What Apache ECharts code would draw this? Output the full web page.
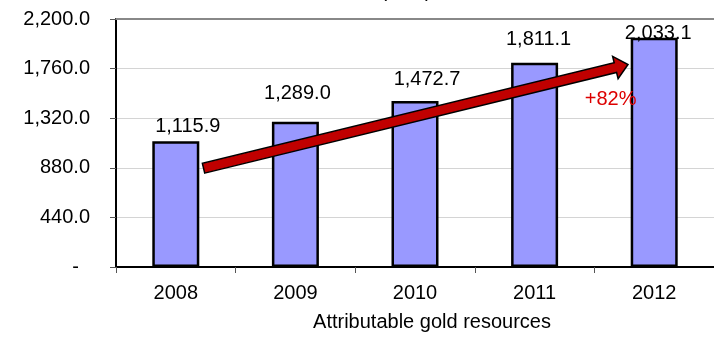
<!DOCTYPE html>
<html>
<head>
<meta charset="utf-8">
<script src="https://cdn.jsdelivr.net/npm/echarts@6/dist/echarts.min.js"></script>
<style>
  html, body { margin: 0; padding: 0; background: #fff; }
  #chart { width: 714px; height: 337px; }
</style>
</head>
<body>
<div id="chart"></div>
<script>
// Attributable gold resources by year
const years = ['2008', '2009', '2010', '2011', '2012'];
const resources = [1115.9, 1289.0, 1472.7, 1811.1, 2033.1];

// Value axis ticks
const yMin = 0;
const yMax = 2200;
const yStep = 440;

// Growth annotation: arrow from/to (category position, value) and its caption
const growthText = '+82%';
const arrowFrom = [0.232, 876];
const arrowTo = [3.781, 1796];
const growthTextAt = [3.636, 1490];

// Per-bar nudges of the value labels, [dx, dy] in px
const labelNudge = [[12, -5], [2, -18], [12, -12], [4, -13], [4, 6]];

const FONT = '"Liberation Sans", Arial, sans-serif';

function fmt(v) {
  return v.toLocaleString('en-US', { minimumFractionDigits: 1, maximumFractionDigits: 1 });
}

const chart = echarts.init(document.getElementById('chart'), null, { renderer: 'canvas' });

chart.setOption({
  animation: false,
  backgroundColor: '#ffffff',
  textStyle: { fontFamily: FONT },
  grid: { left: 116, right: -10, top: 19, bottom: 67, containLabel: false },
  xAxis: {
    type: 'category',
    data: years,
    axisLine: { lineStyle: { color: '#000', width: 2 } },
    axisTick: { show: true, length: 6, lineStyle: { color: '#555', width: 1 } },
    axisLabel: { color: '#000', fontSize: 20, fontFamily: FONT, margin: 16 },
    name: 'Attributable gold resources',
    nameLocation: 'middle',
    nameGap: 45,
    nameTextStyle: { color: '#000', fontSize: 20, fontFamily: FONT, padding: [0, 0, 0, 34] }
  },
  yAxis: {
    type: 'value',
    min: yMin,
    max: yMax,
    interval: yStep,
    axisLine: { show: true, lineStyle: { color: '#000', width: 2 } },
    axisTick: { show: true, length: 6, lineStyle: { color: '#555', width: 1 } },
    axisLabel: {
      color: '#000',
      fontSize: 20,
      fontFamily: FONT,
      margin: 26,
      formatter: v => v === 0 ? '{dash|-}' : fmt(v),
      rich: { dash: { fontSize: 20, fontFamily: FONT, color: '#000', padding: [0, 11, 0, 0] } }
    },
    splitLine: { show: true, lineStyle: { color: '#d4d4d4', width: 1 } }
  },
  series: [
    {
      type: 'bar',
      barWidth: 47,
      data: resources.map((v, i) => ({
        value: v,
        label: { offset: labelNudge[i] }
      })),
      itemStyle: { color: '#9999ff', borderColor: '#000', borderWidth: 2.5 },
      label: {
        show: true,
        position: 'top',
        distance: 0,
        color: '#000',
        fontSize: 20,
        fontFamily: FONT,
        formatter: p => fmt(p.value)
      },
      // plot-area top border along the highest gridline
      markLine: {
        silent: true,
        symbol: 'none',
        label: { show: false },
        lineStyle: { color: '#888', width: 2, type: 'solid' },
        data: [{ yAxis: yMax }]
      },
      z: 2
    }
  ]
});

// Place the growth arrow and its caption through the axes' own scales
function toPx(pos) {
  const i0 = Math.floor(pos[0]);
  const t = pos[0] - i0;
  const a = chart.convertToPixel({ gridIndex: 0 }, [i0, pos[1]]);
  const b = chart.convertToPixel({ gridIndex: 0 }, [i0 + 1, pos[1]]);
  return [a[0] + (b[0] - a[0]) * t, a[1]];
}

function drawAnnotations() {
  const p0 = toPx(arrowFrom);
  const p1 = toPx(arrowTo);
  const dx = p1[0] - p0[0], dy = p1[1] - p0[1];
  const len = Math.hypot(dx, dy);
  const ux = dx / len, uy = dy / len;     // along the arrow
  const nx = -uy, ny = ux;                // across the arrow
  const bodyHalf = 5, headHalf = 11.5, headLen = 13;
  const bx = p1[0] - ux * headLen, by = p1[1] - uy * headLen;
  const pts = [
    [p0[0] + nx * bodyHalf, p0[1] + ny * bodyHalf],
    [bx + nx * bodyHalf, by + ny * bodyHalf],
    [bx + nx * headHalf, by + ny * headHalf],
    [p1[0], p1[1]],
    [bx - nx * headHalf, by - ny * headHalf],
    [bx - nx * bodyHalf, by - ny * bodyHalf],
    [p0[0] - nx * bodyHalf, p0[1] - ny * bodyHalf]
  ];
  const tp = toPx(growthTextAt);
  chart.setOption({
    graphic: [
      {
        type: 'polygon',
        z: 10,
        shape: { points: pts },
        style: { fill: '#c00000', stroke: '#000', lineWidth: 1.5, lineJoin: 'miter' }
      },
      {
        type: 'text',
        z: 11,
        x: tp[0],
        y: tp[1],
        style: {
          text: growthText,
          fill: '#dd0000',
          font: '20px ' + FONT,
          align: 'center',
          verticalAlign: 'middle'
        }
      },
      {
        type: 'text',
        z: 11,
        x: 406,
        y: 1,
        style: {
          text: '(Moz)',
          fill: '#000',
          font: '20px ' + FONT,
          align: 'center',
          verticalAlign: 'bottom'
        }
      }
    ]
  });
}
drawAnnotations();
</script>
</body>
</html>
